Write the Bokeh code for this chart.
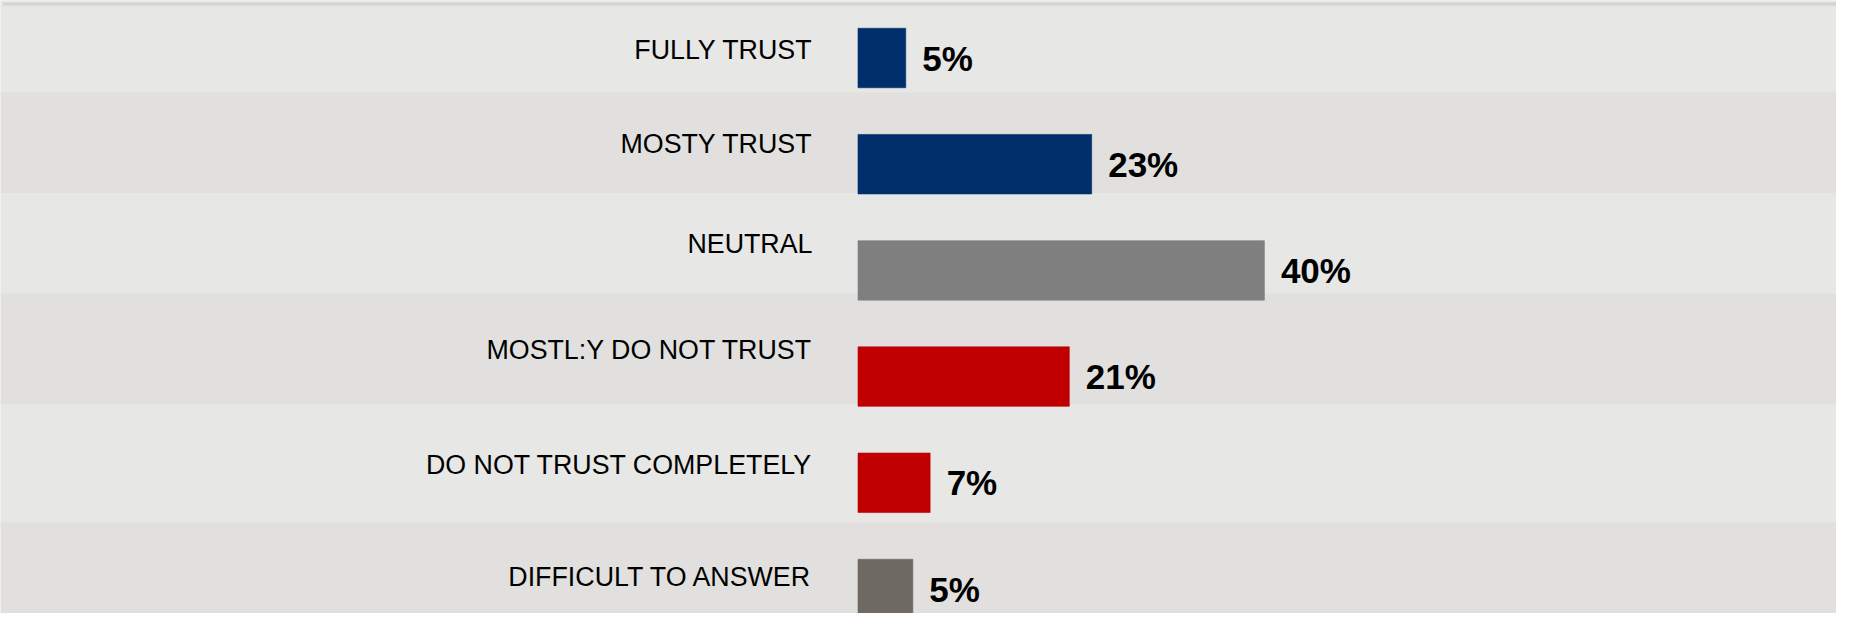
from bokeh.plotting import figure
from bokeh.models import Range1d, ColumnDataSource
from bokeh.core.properties import value
from bokeh.embed import file_html
from bokeh.resources import INLINE

# ---- data ----
categories = ["FULLY TRUST", "MOSTY TRUST", "NEUTRAL", "MOSTL:Y DO NOT TRUST",
              "DO NOT TRUST COMPLETELY", "DIFFICULT TO ANSWER"]
values = [4.7, 23.0, 40.0, 20.8, 7.1, 5.4]
value_labels = ["5%", "23%", "40%", "21%", "7%", "5%"]
bar_colors = ["#002f6b", "#002f6b", "#7f7f7f", "#c00000", "#c00000", "#6e6a63"]

# ---- layout (pixels of the figure) ----
W, H = 1836, 613
ROW0_PX = 57.5        # centre of first row
ROW_STEP = 106.2      # px per row
PX_PER_PCT = 10.16
BAR_LEFT_PX = 857.5
BAR_H_PX = 59.5
band_edges_px = [0, 92, 192.5, 293, 404, 522, 629]
band_colors = ["#e7e7e5", "#e1e0de"]


def row_units(px):
    return (px - ROW0_PX) / ROW_STEP


y_top = row_units(0)
y_bot = row_units(H)
x_start = -BAR_LEFT_PX / PX_PER_PCT
x_end = x_start + W / PX_PER_PCT

p = figure(width=W, height=H, output_backend="svg", toolbar_location=None,
           x_range=Range1d(x_start, x_end), y_range=Range1d(y_bot, y_top),
           x_axis_location=None, y_axis_location=None, min_border=0,
           background_fill_color=band_colors[0], border_fill_color=band_colors[0])
p.grid.visible = False
p.outline_line_color = None

# alternating table bands
btops, bbots, bcols = [], [], []
for i in range(len(band_edges_px) - 1):
    btops.append(row_units(band_edges_px[i]))
    bbots.append(row_units(band_edges_px[i + 1]))
    bcols.append(band_colors[i % 2])
p.quad(left=x_start, right=x_end, top=btops, bottom=bbots, fill_color=bcols,
       line_color=None)

# top border line
p.quad(left=x_start + 2.5 / PX_PER_PCT, right=x_end, top=row_units(2), bottom=row_units(5),
       fill_color="#d3d3d1", line_color=None)

rows = list(range(len(categories)))
src = ColumnDataSource(dict(y=rows, v=values, lab=value_labels, col=bar_colors, cat=categories,
                            ly=[row_units((max(band_edges_px[i], 4) + band_edges_px[i + 1]) / 2 + 1)
                                for i in rows]))

p.hbar(y="y", left=0, right="v", height=BAR_H_PX / ROW_STEP, fill_color="col",
       line_color="col", line_alpha=0.6, source=src)

p.text(x="v", y="y", text="lab", x_offset=16.5, text_align="left", text_baseline="middle",
       text_font=value("Liberation Sans"), text_font_style="bold", text_font_size="35px",
       text_color="#000000", source=src)

p.text(x=0, y="ly", text="cat", x_offset=-45.5, text_align="right", text_baseline="middle",
       text_font=value("Liberation Sans"), text_font_size="26.8px", text_color="#000000",
       source=src)

open("out.html", "w").write(file_html(p, INLINE))
